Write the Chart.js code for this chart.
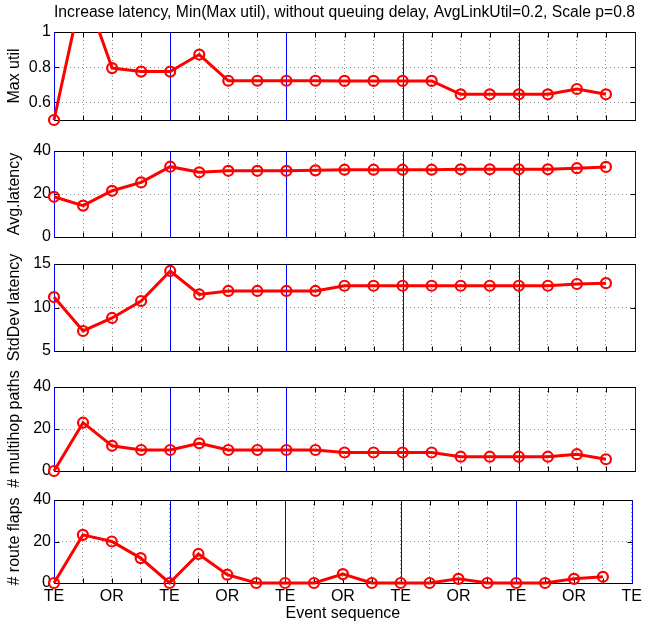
<!DOCTYPE html>
<html>
<head>
<meta charset="utf-8">
<script src="https://cdn.jsdelivr.net/npm/chart.js@4"></script>
<style>
  html, body { margin: 0; padding: 0; background: #fff; }
  #page { position: relative; width: 646px; height: 623px; overflow: hidden; }
  #page canvas { position: absolute; left: 0; }
</style>
</head>
<body>
<div id="page"></div>
<script>
const titleText = 'Increase latency, Min(Max util), without queuing delay, AvgLinkUtil=0.2, Scale p=0.8'
const xAxisTitle = 'Event sequence'
// labels sit on every second tick: x = 0, 2, 4 ... 20
const eventLabels = ['TE', 'OR', 'TE', 'OR', 'TE', 'OR', 'TE', 'OR', 'TE', 'OR', 'TE']
const tePositions = [0, 4, 8, 12, 16, 20]
const steps = [0, 1, 2, 3, 4, 5, 6, 7, 8, 9, 10, 11, 12, 13, 14, 15, 16, 17, 18, 19]

const maxUtil = [0.50, 1.26, 0.795, 0.775, 0.775, 0.872, 0.723, 0.723, 0.723, 0.723, 0.722, 0.722, 0.722, 0.722, 0.646, 0.646, 0.646, 0.646, 0.676, 0.646]
const avgLatency = [18.7, 14.6, 21.5, 25.4, 32.7, 30.1, 30.8, 30.8, 30.8, 31.0, 31.3, 31.3, 31.3, 31.3, 31.5, 31.5, 31.5, 31.5, 32.0, 32.6]
const stdDevLatency = [11.2, 7.3, 8.8, 10.75, 14.2, 11.5, 11.9, 11.9, 11.9, 11.9, 12.5, 12.5, 12.5, 12.5, 12.5, 12.5, 12.5, 12.5, 12.7, 12.8]
const multihopPaths = [0, 23, 12, 10, 10, 13.2, 10, 10, 10, 10, 8.8, 8.8, 8.8, 8.8, 6.8, 6.8, 6.8, 6.8, 8.0, 5.6]
const routeFlaps = [0, 23.2, 20, 12, 0, 14, 4, 0, 0, 0, 4.3, 0, 0, 0, 2, 0, 0, 0, 2, 3]

const maxUtilTicks = [0.6, 0.8, 1]
const latencyTicks = [0, 20, 40]
const stdDevTicks = [5, 10, 15]
const countTicks = [0, 20, 40]

const panels = [
  { label: 'Max util', data: maxUtil, min: 0.5, max: 1, ticks: maxUtilTicks, top: 32, bottom: 120 },
  { label: 'Avg.latency', data: avgLatency, min: 0, max: 40, ticks: latencyTicks, top: 151, bottom: 237 },
  { label: 'StdDev latency', data: stdDevLatency, min: 5, max: 15, ticks: stdDevTicks, top: 264, bottom: 351 },
  { label: '# multihop paths', data: multihopPaths, min: 0, max: 40, ticks: countTicks, top: 387, bottom: 471 },
  { label: '# route flaps', data: routeFlaps, min: 0, max: 40, ticks: countTicks, top: 500, bottom: 583 }
]

Chart.defaults.font.family = '"Liberation Sans", Arial, Helvetica, sans-serif'
Chart.defaults.color = '#000'

// MATLAB-ish box, inward ticks and the blue TE markers
const matlabAxes = {
  id: 'matlabAxes',
  beforeDatasetsDraw(chart) {
    const { ctx, chartArea: a, scales: { x, y } } = chart
    const l = Math.round(a.left) + 0.5, r = Math.round(a.right) + 0.5
    const t = Math.round(a.top) + 0.5, b = Math.round(a.bottom) + 0.5
    ctx.save()
    ctx.strokeStyle = '#000'
    ctx.lineWidth = 1
    ctx.strokeRect(l, t, r - l, b - t)
    ctx.beginPath()
    x.ticks.forEach(tk => {
      const px = Math.round(x.getPixelForValue(tk.value)) + 0.5
      ctx.moveTo(px, t); ctx.lineTo(px, t + 5)
      ctx.moveTo(px, b); ctx.lineTo(px, b - 5)
    })
    y.ticks.forEach(tk => {
      const py = Math.round(y.getPixelForValue(tk.value)) + 0.5
      ctx.moveTo(l, py); ctx.lineTo(l + 5, py)
      ctx.moveTo(r, py); ctx.lineTo(r - 5, py)
    })
    ctx.stroke()
    ctx.strokeStyle = '#0000ff'
    ctx.beginPath()
    tePositions.forEach(v => {
      const px = Math.round(x.getPixelForValue(v)) + 0.5
      ctx.moveTo(px, t); ctx.lineTo(px, b)
    })
    ctx.stroke()
    ctx.restore()
  }
}

const page = document.getElementById('page')
const PAD = 30

panels.forEach((p, i) => {
  const first = i === 0
  const last = i === panels.length - 1
  const canvasTop = first ? 0 : p.top - PAD
  const canvasBottom = last ? 623 : p.bottom + PAD
  const xHeight = last ? 623 - p.bottom : 0

  const canvas = document.createElement('canvas')
  canvas.width = 646
  canvas.height = canvasBottom - canvasTop
  canvas.style.top = canvasTop + 'px'
  page.appendChild(canvas)

  new Chart(canvas.getContext('2d'), {
    type: 'line',
    data: {
      datasets: [{
        data: steps.map((s, k) => ({ x: s, y: p.data[k] })),
        borderColor: '#ff0000',
        borderWidth: 3,
        pointRadius: 5,
        pointBorderWidth: 2.2,
        pointBorderColor: '#ff0000',
        pointBackgroundColor: 'rgba(0,0,0,0)',
        tension: 0,
        clip: { left: 10, right: 10, top: 0, bottom: 10 }
      }]
    },
    options: {
      responsive: false,
      animation: false,
      devicePixelRatio: 1,
      layout: { padding: { left: 0, right: 11, top: first ? 0 : PAD, bottom: last ? 0 : PAD } },
      plugins: {
        legend: { display: false },
        tooltip: { enabled: false },
        title: {
          display: first,
          text: titleText,
          fullSize: false,
          font: { size: 16, weight: 'normal' },
          color: '#000',
          padding: { top: 3, bottom: 9.8 }
        }
      },
      scales: {
        x: {
          type: 'linear',
          min: 0,
          max: 20,
          ticks: {
            display: last,
            stepSize: 1,
            autoSkip: false,
            maxRotation: 0,
            padding: 4,
            font: { size: 16 },
            callback: v => v % 2 === 0 ? eventLabels[v / 2] : ''
          },
          grid: { color: '#8c8c8c', drawTicks: false, lineWidth: 1 },
          border: { display: false, dash: [1, 3] },
          title: { display: last, text: xAxisTitle, font: { size: 16 }, padding: { top: 0, bottom: 0 } },
          afterFit: s => { s.height = xHeight }
        },
        y: {
          min: p.min,
          max: p.max,
          afterBuildTicks: s => { s.ticks = p.ticks.map(v => ({ value: v })) },
          ticks: { font: { size: 16 }, padding: 3, callback: v => String(v) },
          grid: { color: '#8c8c8c', drawTicks: false, lineWidth: 1 },
          border: { display: false, dash: [1, 3] },
          title: { display: true, text: p.label, font: { size: 16 }, padding: { top: 5, bottom: 0 } },
          afterFit: s => { s.width = 54 }
        }
      }
    },
    plugins: [matlabAxes]
  })
})
</script>
</body>
</html>
